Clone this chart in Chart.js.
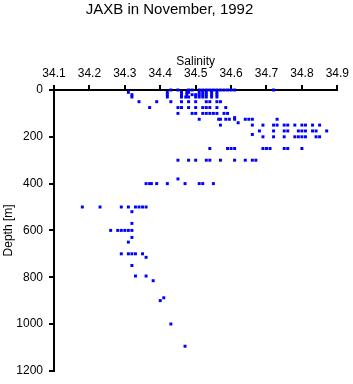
<!DOCTYPE html>
<html>
<head>
<meta charset="utf-8">
<script src="https://cdn.jsdelivr.net/npm/chart.js@4/dist/chart.umd.min.js"></script>
<style>
  body { margin: 0; background: #fff; }
</style>
</head>
<body>
<canvas id="myChart" width="353" height="384"></canvas>
<script>
// depth levels [m] and the salinity readings found at each level
const depthLevels = [0, 10, 20, 30, 50, 75, 100, 118, 125, 140, 150, 175, 190, 200, 250, 300, 380, 400,
  500, 520, 570, 600, 630, 650, 700, 715, 750, 795, 815, 888, 900, 1000, 1095];
const salinityAtLevel = [
  [34.43, 34.45, 34.48, 34.49, 34.51, 34.52, 34.53, 34.54, 34.55, 34.56, 34.57, 34.58, 34.59, 34.60, 34.61, 34.72],
  [34.31, 34.42, 34.46, 34.475, 34.48, 34.51, 34.52, 34.53, 34.545, 34.56],
  [34.32, 34.42, 34.46, 34.475, 34.49, 34.50, 34.51, 34.52, 34.53, 34.545, 34.56],
  [34.32, 34.42, 34.46, 34.472, 34.48, 34.50, 34.51, 34.52, 34.53, 34.545, 34.56],
  [34.34, 34.39, 34.43, 34.46, 34.48, 34.50, 34.53, 34.54, 34.56, 34.57],
  [34.37, 34.45, 34.46, 34.48, 34.50, 34.52, 34.53, 34.54, 34.56, 34.585],
  [34.45, 34.49, 34.50, 34.52, 34.53, 34.54, 34.55, 34.56, 34.58, 34.59],
  [34.61],
  [34.51, 34.565, 34.57, 34.585, 34.595, 34.61, 34.64, 34.65, 34.66, 34.73],
  [34.62],
  [34.57, 34.66, 34.69, 34.72, 34.73, 34.75, 34.76, 34.78, 34.80, 34.81, 34.83, 34.85],
  [34.68, 34.72, 34.75, 34.76, 34.79, 34.80, 34.81, 34.83, 34.84, 34.87],
  [34.66],
  [34.69, 34.72, 34.75, 34.78, 34.79, 34.80, 34.81, 34.84, 34.85],
  [34.54, 34.59, 34.60, 34.61, 34.69, 34.70, 34.71, 34.75, 34.76, 34.80],
  [34.45, 34.48, 34.50, 34.53, 34.54, 34.57, 34.61, 34.64, 34.66, 34.67],
  [34.45],
  [34.36, 34.37, 34.375, 34.39, 34.42, 34.47, 34.51, 34.52, 34.55],
  [34.18, 34.23, 34.29, 34.31, 34.33, 34.34, 34.35, 34.36],
  [34.32],
  [34.32],
  [34.26, 34.28, 34.29, 34.30, 34.31, 34.32],
  [34.32],
  [34.31],
  [34.29, 34.31, 34.32, 34.33, 34.35],
  [34.36],
  [34.32],
  [34.33, 34.36],
  [34.38],
  [34.41],
  [34.40],
  [34.43],
  [34.47],
];

const xTicksMin = 34.1, xTicksMax = 34.9;
const yTicksMin = 0, yTicksMax = 1200;

let points = [];
depthLevels.forEach((d, i) => {
  salinityAtLevel[i].forEach((s) => {
    points.push({ x: s, y: d });
  });
});

Chart.defaults.font.family = "'Liberation Sans', Arial, Helvetica, sans-serif";
Chart.defaults.color = "#000";

const ctx = document.getElementById("myChart").getContext("2d");

const config = {
  type: "scatter",
  data: {
    datasets: [
      {
        label: "JAXB",
        data: points,
        pointStyle: "rect",
        pointRadius: 2.1,
        borderWidth: 0,
        backgroundColor: "rgb(0, 0, 255)",
        clip: false,
      },
    ],
  },
  options: {
    responsive: false,
    animation: false,
    layout: {
      padding: { left: 0, right: 14, top: 0, bottom: 8 },
    },
    plugins: {
      legend: { display: false },
      tooltip: { enabled: false },
      title: {
        display: true,
        text: "JAXB in November, 1992",
        font: { size: 15, weight: "normal" },
        padding: { top: 1, bottom: 0 },
      },
    },
    scales: {
      x: {
        type: "linear",
        position: "top",
        min: xTicksMin,
        max: xTicksMax,
        afterFit: (scale) => { scale.height = 71; },
        ticks: {
          stepSize: 0.1,
          padding: 4,
          font: { size: 12 },
          callback: (v) => v.toFixed(1),
        },
        grid: {
          drawOnChartArea: false,
          drawTicks: true,
          tickLength: 5,
          color: "#000",
          lineWidth: 2,
        },
        border: { display: true, color: "#000", width: 2 },
        title: {
          display: true,
          text: "Salinity",
          font: { size: 12 },
          padding: { top: 35, bottom: 0 },
        },
      },
      y: {
        type: "linear",
        reverse: true,
        min: yTicksMin,
        max: yTicksMax,
        afterFit: (scale) => { scale.width = 54; },
        ticks: {
          stepSize: 200,
          padding: 6,
          font: { size: 12 },
          callback: (v) => String(v),
        },
        grid: {
          drawOnChartArea: false,
          drawTicks: true,
          tickLength: 5,
          color: "#000",
          lineWidth: 2,
        },
        border: { display: true, color: "#000", width: 2 },
        title: {
          display: true,
          text: "Depth [m]",
          font: { size: 12 },
          padding: { top: 1, bottom: 0 },
        },
      },
    },
  },
};

const newChart = new Chart(ctx, config);
</script>
</body>
</html>
